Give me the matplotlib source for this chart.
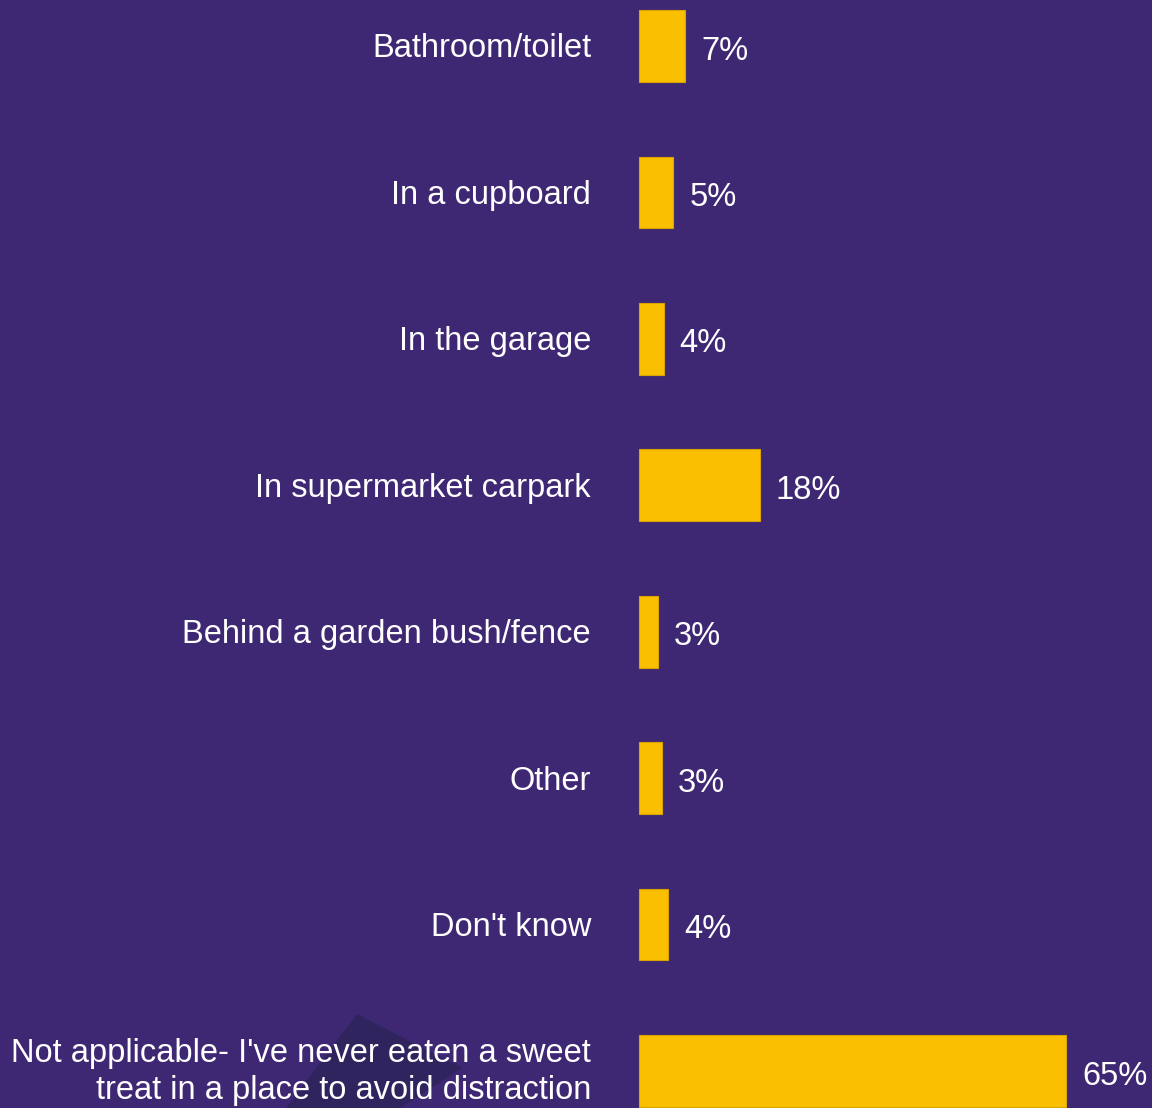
import matplotlib
matplotlib.use("Agg")
import matplotlib.pyplot as plt
from matplotlib.patches import Polygon

categories = [
    "Bathroom/toilet",
    "In a cupboard",
    "In the garage",
    "In supermarket carpark",
    "Behind a garden bush/fence",
    "Other",
    "Don't know",
    "Not applicable- I've never eaten a sweet\ntreat in a place to avoid distraction",
]
values = [7.0, 5.2, 3.75, 18.4, 2.9, 3.45, 4.4, 65.0]
value_labels = ["7%", "5%", "4%", "18%", "3%", "3%", "4%", "65%"]

bg = "#3E2873"
bar_col = "#F9BF00"

plt.rcParams['font.family'] = ['Liberation Sans', 'DejaVu Sans']

fig = plt.figure(figsize=(11.52, 11.08), dpi=100, facecolor=bg)
ax = fig.add_axes([0, 0, 1, 1])
ax.set_facecolor(bg)

# decorative darker shape behind the last label (axes fills the figure)
W, H = 1152, 1108
pts = [(357, 1014), (462, 1068), (400, 1108), (286, 1108)]
ax.add_patch(Polygon([(x / W, 1 - y / H) for x, y in pts], closed=True,
                     transform=ax.transAxes, facecolor="#30245F",
                     edgecolor="none", zorder=0.5))

y = list(range(len(categories)))
ax.barh(y, values, height=0.49, color=bar_col, edgecolor="#D9A300",
        linewidth=0.8, zorder=2)

for i, (v, lab) in enumerate(zip(values, value_labels)):
    ax.text(v + 2.45, i + 0.035, lab, ha="left", va="center", color="white",
            fontsize=23.5, zorder=3)
    dy = 0.005 if "\n" in categories[i] else 0.02
    ax.text(-7.3, i + dy, categories[i], ha="right", va="center", color="white",
            fontsize=23.5, linespacing=1.24, multialignment="right", zorder=3)

ax.set_xlim(-97.26, 78.08)
ax.set_ylim(7.253, -0.314)
ax.axis("off")

fig.savefig("out.png", dpi=100, facecolor=bg)
